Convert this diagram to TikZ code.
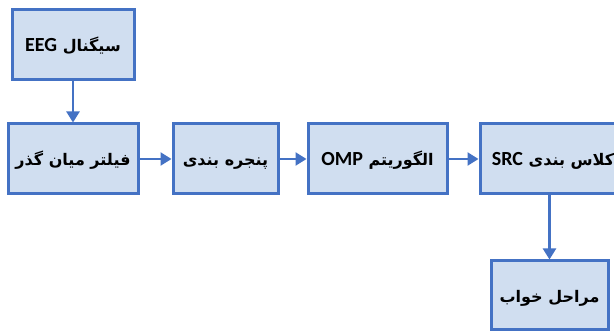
\documentclass[tikz,border=0pt]{standalone}
\usepackage{fontspec}
\setmainfont{DejaVu Sans}
\newfontfamily\fafont[Script=Arabic]{DejaVu Sans}
\newfontfamily\latfont{Carlito}
\newcommand\latword[1]{\beginL{\latfont\bfseries\fontsize{20}{22}\selectfont #1}\endL}
\TeXXeTstate=1
\usetikzlibrary{arrows.meta}
\definecolor{boxline}{RGB}{68,114,196}
\definecolor{boxfill}{RGB}{208,222,240}
\begin{document}
\begin{tikzpicture}[x=1pt,y=-1pt,
  stage/.style={draw=boxline, fill=boxfill, line width=3pt, minimum height=70pt,
    inner sep=0pt, text height=15pt, text depth=1pt,
    font=\fafont\bfseries\fontsize{16}{20}\selectfont},
  flow/.style={draw=boxline, line width=2.4pt, -{Triangle[length=11pt,width=13pt]}}]
  \useasboundingbox (0,0) rectangle (614,331);
  \clip (0,0) rectangle (614,331);
  % processing chain
  \node[stage, minimum width=122pt] (sig) at (73,45) {\beginR سیگنال \latword{EEG}\endR};
  \node[stage, minimum width=130pt] (filt) at (73,159) {\beginR فیلتر میان گذر\endR};
  \node[stage, minimum width=105pt] (win) at (225.5,159) {\beginR پنجره بندی\endR};
  \node[stage, minimum width=139pt] (omp) at (377.5,159) {\beginR الگوریتم \latword{OMP}\endR};
  \node[stage, minimum width=146pt] (src) at (553,159) {\beginR کلاس بندی \latword{SRC}\endR};
  \node[stage, minimum width=117pt, minimum height=69pt] (stg) at (549.5,295.5) {\beginR مراحل خواب\endR};
  % connectors
  \draw[flow] (sig) -- (filt);
  \draw[flow] (filt) -- (win);
  \draw[flow] (win) -- (omp);
  \draw[flow] (omp) -- (src);
  \draw[flow] (src.south -| stg.north) -- (stg.north);
\end{tikzpicture}
\end{document}
